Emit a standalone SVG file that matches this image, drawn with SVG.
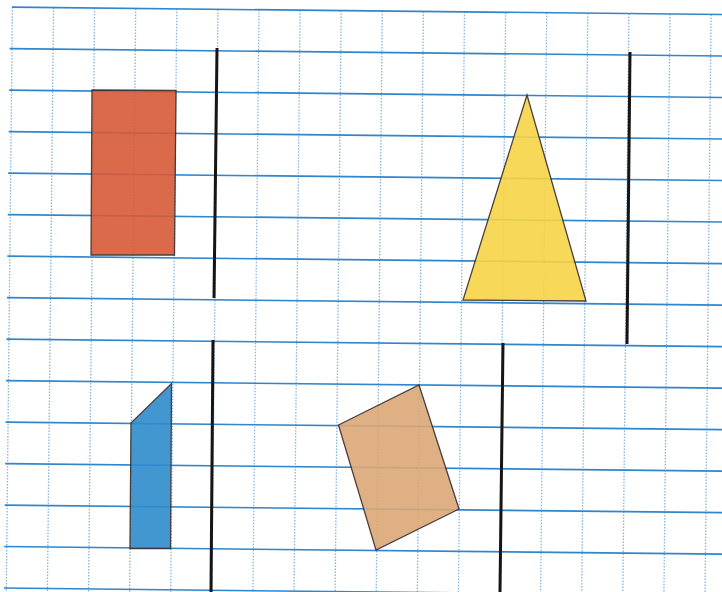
<svg xmlns="http://www.w3.org/2000/svg" width="722" height="592" viewBox="0 0 722 592">
<style>
.h{stroke:#2f86cc;stroke-width:1.6;fill:none}
.v{stroke:#86b6e0;stroke-width:1.3;stroke-dasharray:1.5 1.5;fill:none}
.axis{stroke:#151515;stroke-width:3;stroke-linecap:butt;fill:none}
.shape{stroke:#3a2a2a;stroke-width:1.3;stroke-linejoin:miter}
</style>
<rect width="722" height="592" fill="#ffffff"/>
<g id="grid" transform="rotate(0.6)">
<g id="vlines">
<line class="v" x1="12.5" y1="7" x2="12.5" y2="600"/>
<line class="v" x1="53.6" y1="7" x2="53.6" y2="600"/>
<line class="v" x1="94.7" y1="7" x2="94.7" y2="600"/>
<line class="v" x1="135.8" y1="7" x2="135.8" y2="600"/>
<line class="v" x1="176.9" y1="7" x2="176.9" y2="600"/>
<line class="v" x1="218" y1="7" x2="218" y2="600"/>
<line class="v" x1="259.1" y1="7" x2="259.1" y2="600"/>
<line class="v" x1="300.2" y1="7" x2="300.2" y2="600"/>
<line class="v" x1="341.3" y1="7" x2="341.3" y2="600"/>
<line class="v" x1="382.4" y1="7" x2="382.4" y2="600"/>
<line class="v" x1="423.5" y1="7" x2="423.5" y2="600"/>
<line class="v" x1="464.6" y1="7" x2="464.6" y2="600"/>
<line class="v" x1="505.7" y1="7" x2="505.7" y2="600"/>
<line class="v" x1="546.8" y1="7" x2="546.8" y2="600"/>
<line class="v" x1="587.9" y1="7" x2="587.9" y2="600"/>
<line class="v" x1="629" y1="7" x2="629" y2="600"/>
<line class="v" x1="670.1" y1="7" x2="670.1" y2="600"/>
<line class="v" x1="711.2" y1="7" x2="711.2" y2="600"/>
</g>
<g id="hlines">
<line class="h" x1="12" y1="7" x2="730" y2="7"/>
<line class="h" x1="10" y1="48.5" x2="730" y2="48.5"/>
<line class="h" x1="10" y1="90" x2="730" y2="90"/>
<line class="h" x1="10" y1="131.5" x2="730" y2="131.5"/>
<line class="h" x1="10" y1="173" x2="730" y2="173"/>
<line class="h" x1="10" y1="214.5" x2="730" y2="214.5"/>
<line class="h" x1="10" y1="256" x2="730" y2="256"/>
<line class="h" x1="10" y1="297.5" x2="730" y2="297.5"/>
<line class="h" x1="10" y1="339" x2="730" y2="339"/>
<line class="h" x1="10" y1="380.5" x2="730" y2="380.5"/>
<line class="h" x1="10" y1="422" x2="730" y2="422"/>
<line class="h" x1="10" y1="463.5" x2="730" y2="463.5"/>
<line class="h" x1="10" y1="505" x2="730" y2="505"/>
<line class="h" x1="10" y1="546.5" x2="730" y2="546.5"/>
<line class="h" x1="10" y1="588" x2="730" y2="588"/>
</g>
</g>
<g id="shapes" opacity="0.9">
<polygon id="red-rectangle" class="shape" fill="#d85a38" points="92,90 176,90.5 174.5,255 91,255"/>
<polygon id="yellow-triangle" class="shape" fill="#f8d447" points="527,95 586,301 463,300"/>
<polygon id="blue-shape" class="shape" fill="#2f8ccc" points="171.5,383.5 170.5,548.5 130,548.5 131,423"/>
<polygon id="tan-parallelogram" class="shape" fill="#dba876" points="419,385 459,509 376,550 338.5,425"/>
</g>
<g id="axes">
<line class="axis" x1="217" y1="48" x2="214" y2="298"/>
<line class="axis" x1="630" y1="52" x2="627" y2="344"/>
<line class="axis" x1="213" y1="340" x2="211" y2="592"/>
<line class="axis" x1="503" y1="343" x2="500" y2="592"/>
</g>
</svg>
